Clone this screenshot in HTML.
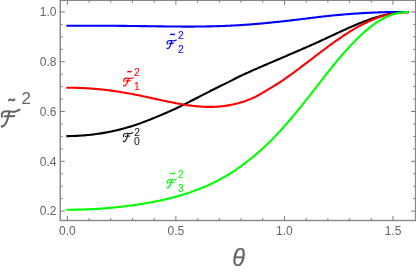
<!DOCTYPE html><html><head><meta charset="utf-8"><title>plot</title><style>
html,body{margin:0;padding:0;background:#fff;}
body{width:416px;height:273px;position:relative;overflow:hidden;font-family:"Liberation Sans",sans-serif;}
#wrap{position:absolute;left:0;top:0;width:416px;height:273px;will-change:transform;}
.tl{position:absolute;color:#666666;font-size:12px;line-height:12px;white-space:nowrap;}
.yl{text-align:right;width:30px;}
.xl{text-align:center;width:30px;}
.theta{position:absolute;color:#666666;font-size:23.5px;line-height:23.5px;font-style:italic;-webkit-text-stroke:0.25px #666666;}
</style></head><body>
<div id="wrap">
<svg width="416" height="273" viewBox="0 0 416 273" style="position:absolute;left:0;top:0">
<defs>
<symbol id="sF" viewBox="0 0 100 96" preserveAspectRatio="none" overflow="visible">
<path d="M3.8,40.0 C3.6,38.1 1.9,32.2 2.4,28.6 C2.9,24.9 4.1,20.9 6.7,18.1 C9.2,15.3 12.6,13.2 17.6,11.9 C22.6,10.6 30.3,10.2 36.7,10.5 C43.0,10.7 49.8,13.0 55.7,13.3 C61.7,13.7 67.2,13.3 72.4,12.4 C77.5,11.4 82.3,9.5 86.7,7.6 C91.0,5.7 96.6,2.1 98.6,1.0" fill="none" stroke="currentColor" vector-effect="non-scaling-stroke" stroke-linecap="round" stroke-linejoin="round"/>
<path d="M42.9,13.3 C42.1,16.8 39.7,27.6 38.1,34.3 C36.5,41.0 35.4,47.0 33.3,53.3 C31.3,59.7 28.6,66.8 25.7,72.4 C22.9,77.9 19.7,83.0 16.2,86.7 C12.7,90.3 7.1,93.7 4.8,94.3 C2.4,94.9 2.4,91.1 1.9,90.5" fill="none" stroke="currentColor" vector-effect="non-scaling-stroke" stroke-linecap="round" stroke-linejoin="round"/>
<path d="M18.1,38.1 C20.8,37.8 28.4,36.3 34.3,36.2 C40.2,36.1 47.4,37.6 53.3,37.6 C59.3,37.6 67.2,36.4 70.0,36.2" fill="none" stroke="currentColor" vector-effect="non-scaling-stroke" stroke-linecap="round" stroke-linejoin="round"/>
</symbol>
<symbol id="sF2" viewBox="0 0 100 89.5" preserveAspectRatio="none" overflow="visible">
<path d="M5.3,39.5 C5.0,37.3 3.0,30.3 3.7,26.3 C4.4,22.4 6.4,18.8 9.5,15.8 C12.5,12.8 17.1,10.0 22.1,8.4 C27.1,6.8 33.5,6.1 39.5,6.3 C45.4,6.5 51.8,9.1 57.9,9.5 C64.0,9.8 71.1,9.1 76.3,8.4 C81.6,7.7 85.7,6.5 89.5,5.3 C93.2,4.0 97.4,1.8 98.9,1.1" fill="none" stroke="currentColor" vector-effect="non-scaling-stroke" stroke-linecap="round" stroke-linejoin="round"/>
<path d="M50.0,9.5 C49.3,12.7 47.7,21.8 45.8,28.9 C43.9,36.1 41.2,45.6 38.4,52.6 C35.6,59.6 32.5,66.0 28.9,71.1 C25.4,76.1 20.6,80.5 16.8,83.2 C13.1,85.8 8.9,87.1 6.3,86.8 C3.7,86.6 1.9,82.5 1.1,81.6" fill="none" stroke="currentColor" vector-effect="non-scaling-stroke" stroke-linecap="round" stroke-linejoin="round"/>
<path d="M25.3,35.8 C28.1,35.4 36.7,33.3 42.1,33.2 C47.5,33.0 53.3,34.8 57.9,34.7 C62.5,34.6 67.5,33.0 69.5,32.6" fill="none" stroke="currentColor" vector-effect="non-scaling-stroke" stroke-linecap="round" stroke-linejoin="round"/>
</symbol>
<symbol id="til" viewBox="0 0 100 40" preserveAspectRatio="none" overflow="visible">
<path d="M6,30 C14,8 30,6 50,20 C70,34 86,32 94,10" fill="none" stroke="currentColor" vector-effect="non-scaling-stroke" stroke-linecap="round" stroke-linejoin="round"/>
</symbol>
</defs>
<rect x="60.25" y="0.3" width="355.35" height="220.2" fill="none" stroke="#868686" stroke-width="1.4"/>
<path d="M67.35,220.5 v-4.5 M67.35,0.3 v4.5 M89.06,220.5 v-2.4 M89.06,0.3 v2.4 M110.77,220.5 v-2.4 M110.77,0.3 v2.4 M132.48,220.5 v-2.4 M132.48,0.3 v2.4 M154.19,220.5 v-2.4 M154.19,0.3 v2.4 M175.90,220.5 v-4.5 M175.90,0.3 v4.5 M197.61,220.5 v-2.4 M197.61,0.3 v2.4 M219.32,220.5 v-2.4 M219.32,0.3 v2.4 M241.03,220.5 v-2.4 M241.03,0.3 v2.4 M262.74,220.5 v-2.4 M262.74,0.3 v2.4 M284.45,220.5 v-4.5 M284.45,0.3 v4.5 M306.16,220.5 v-2.4 M306.16,0.3 v2.4 M327.87,220.5 v-2.4 M327.87,0.3 v2.4 M349.58,220.5 v-2.4 M349.58,0.3 v2.4 M371.29,220.5 v-2.4 M371.29,0.3 v2.4 M393.00,220.5 v-4.5 M393.00,0.3 v4.5 M60.25,211.10 h4.5 M415.6,211.10 h-4.5 M60.25,198.65 h2.4 M415.6,198.65 h-2.4 M60.25,186.20 h2.4 M415.6,186.20 h-2.4 M60.25,173.75 h2.4 M415.6,173.75 h-2.4 M60.25,161.30 h4.5 M415.6,161.30 h-4.5 M60.25,148.85 h2.4 M415.6,148.85 h-2.4 M60.25,136.40 h2.4 M415.6,136.40 h-2.4 M60.25,123.95 h2.4 M415.6,123.95 h-2.4 M60.25,111.50 h4.5 M415.6,111.50 h-4.5 M60.25,99.05 h2.4 M415.6,99.05 h-2.4 M60.25,86.60 h2.4 M415.6,86.60 h-2.4 M60.25,74.15 h2.4 M415.6,74.15 h-2.4 M60.25,61.70 h4.5 M415.6,61.70 h-4.5 M60.25,49.25 h2.4 M415.6,49.25 h-2.4 M60.25,36.80 h2.4 M415.6,36.80 h-2.4 M60.25,24.35 h2.4 M415.6,24.35 h-2.4 M60.25,11.90 h4.5 M415.6,11.90 h-4.5" stroke="#7a7a7a" stroke-width="1" fill="none"/>
<path d="M66.35,136.15 L67.85,136.13 L69.35,136.11 L70.85,136.07 L72.35,136.03 L73.85,135.97 L75.35,135.91 L76.85,135.84 L78.35,135.76 L79.85,135.67 L81.35,135.57 L82.85,135.46 L84.35,135.34 L85.85,135.21 L87.35,135.07 L88.85,134.92 L90.35,134.76 L91.85,134.60 L93.35,134.42 L94.85,134.23 L96.35,134.03 L97.85,133.82 L99.35,133.60 L100.85,133.37 L102.35,133.13 L103.85,132.88 L105.35,132.62 L106.85,132.35 L108.35,132.06 L109.85,131.77 L111.35,131.46 L112.85,131.14 L114.35,130.81 L115.85,130.47 L117.35,130.12 L118.85,129.76 L120.35,129.38 L121.85,128.99 L123.35,128.59 L124.85,128.18 L126.35,127.75 L127.85,127.31 L129.35,126.87 L130.85,126.41 L132.35,125.94 L133.85,125.45 L135.35,124.96 L136.85,124.46 L138.35,123.94 L139.85,123.42 L141.35,122.88 L142.85,122.33 L144.35,121.77 L145.85,121.21 L147.35,120.63 L148.85,120.04 L150.35,119.45 L151.85,118.84 L153.35,118.23 L154.85,117.61 L156.35,116.99 L157.85,116.36 L159.35,115.74 L160.85,115.11 L162.35,114.47 L163.85,113.83 L165.35,113.19 L166.85,112.54 L168.35,111.88 L169.85,111.22 L171.35,110.55 L172.85,109.87 L174.35,109.18 L175.85,108.49 L177.35,107.78 L178.85,107.07 L180.35,106.35 L181.85,105.61 L183.35,104.87 L184.85,104.11 L186.35,103.35 L187.85,102.59 L189.35,101.82 L190.85,101.05 L192.35,100.28 L193.85,99.51 L195.35,98.74 L196.85,97.97 L198.35,97.20 L199.85,96.42 L201.35,95.65 L202.85,94.88 L204.35,94.11 L205.85,93.34 L207.35,92.58 L208.85,91.81 L210.35,91.05 L211.85,90.29 L213.35,89.53 L214.85,88.78 L216.35,88.03 L217.85,87.28 L219.35,86.54 L220.85,85.80 L222.35,85.06 L223.85,84.33 L225.35,83.60 L226.85,82.88 L228.35,82.13 L229.85,81.37 L231.35,80.60 L232.85,79.82 L234.35,79.05 L235.85,78.27 L237.35,77.51 L238.85,76.77 L240.35,76.06 L241.85,75.36 L243.35,74.66 L244.85,73.97 L246.35,73.28 L247.85,72.60 L249.35,71.92 L250.85,71.25 L252.35,70.58 L253.85,69.91 L255.35,69.25 L256.85,68.59 L258.35,67.93 L259.85,67.27 L261.35,66.62 L262.85,65.97 L264.35,65.33 L265.85,64.68 L267.35,64.04 L268.85,63.40 L270.35,62.75 L271.85,62.11 L273.35,61.47 L274.85,60.83 L276.35,60.20 L277.85,59.56 L279.35,58.92 L280.85,58.28 L282.35,57.64 L283.85,56.99 L285.35,56.35 L286.85,55.71 L288.35,55.06 L289.85,54.41 L291.35,53.76 L292.85,53.11 L294.35,52.47 L295.85,51.82 L297.35,51.17 L298.85,50.53 L300.35,49.88 L301.85,49.23 L303.35,48.58 L304.85,47.92 L306.35,47.27 L307.85,46.61 L309.35,45.95 L310.85,45.29 L312.35,44.62 L313.85,43.95 L315.35,43.28 L316.85,42.60 L318.35,41.92 L319.85,41.24 L321.35,40.55 L322.85,39.86 L324.35,39.17 L325.85,38.47 L327.35,37.77 L328.85,37.06 L330.35,36.36 L331.85,35.66 L333.35,34.96 L334.85,34.26 L336.35,33.56 L337.85,32.86 L339.35,32.17 L340.85,31.48 L342.35,30.79 L343.85,30.10 L345.35,29.42 L346.85,28.75 L348.35,28.08 L349.85,27.41 L351.35,26.76 L352.85,26.11 L354.35,25.46 L355.85,24.83 L357.35,24.20 L358.85,23.59 L360.35,22.98 L361.85,22.38 L363.35,21.80 L364.85,21.22 L366.35,20.66 L367.85,20.12 L369.35,19.58 L370.85,19.06 L372.35,18.55 L373.85,18.06 L375.35,17.59 L376.85,17.13 L378.35,16.69 L379.85,16.26 L381.35,15.86 L382.85,15.47 L384.35,15.10 L385.85,14.74 L387.35,14.41 L388.85,14.10 L390.35,13.82 L391.85,13.55 L393.35,13.30 L394.85,13.08 L396.35,12.88 L397.85,12.70 L399.35,12.54 L400.85,12.41 L402.35,12.30 L403.85,12.21 L405.35,12.14 L406.85,12.10 L408.35,12.09 L408.72,12.09" fill="none" stroke="#000000" stroke-width="2.1" stroke-linejoin="round"/>
<path d="M66.35,87.70 L67.85,87.70 L69.35,87.70 L70.85,87.71 L72.35,87.73 L73.85,87.76 L75.35,87.79 L76.85,87.83 L78.35,87.87 L79.85,87.93 L81.35,87.99 L82.85,88.05 L84.35,88.13 L85.85,88.21 L87.35,88.29 L88.85,88.39 L90.35,88.49 L91.85,88.60 L93.35,88.71 L94.85,88.84 L96.35,88.97 L97.85,89.10 L99.35,89.25 L100.85,89.40 L102.35,89.56 L103.85,89.72 L105.35,89.89 L106.85,90.07 L108.35,90.25 L109.85,90.45 L111.35,90.65 L112.85,90.85 L114.35,91.06 L115.85,91.28 L117.35,91.51 L118.85,91.74 L120.35,91.98 L121.85,92.22 L123.35,92.47 L124.85,92.72 L126.35,92.99 L127.85,93.25 L129.35,93.53 L130.85,93.80 L132.35,94.09 L133.85,94.38 L135.35,94.67 L136.85,94.97 L138.35,95.27 L139.85,95.57 L141.35,95.88 L142.85,96.19 L144.35,96.51 L145.85,96.83 L147.35,97.15 L148.85,97.47 L150.35,97.79 L151.85,98.12 L153.35,98.45 L154.85,98.77 L156.35,99.10 L157.85,99.43 L159.35,99.76 L160.85,100.08 L162.35,100.41 L163.85,100.73 L165.35,101.05 L166.85,101.36 L168.35,101.68 L169.85,101.99 L171.35,102.29 L172.85,102.59 L174.35,102.89 L175.85,103.18 L177.35,103.46 L178.85,103.74 L180.35,104.00 L181.85,104.26 L183.35,104.51 L184.85,104.76 L186.35,104.99 L187.85,105.21 L189.35,105.42 L190.85,105.62 L192.35,105.81 L193.85,105.98 L195.35,106.14 L196.85,106.29 L198.35,106.42 L199.85,106.54 L201.35,106.64 L202.85,106.73 L204.35,106.80 L205.85,106.86 L207.35,106.89 L208.85,106.91 L210.35,106.92 L211.85,106.90 L213.35,106.86 L214.85,106.81 L216.35,106.73 L217.85,106.64 L219.35,106.52 L220.85,106.38 L222.35,106.22 L223.85,106.04 L225.35,105.84 L226.85,105.62 L228.35,105.37 L229.85,105.10 L231.35,104.81 L232.85,104.50 L234.35,104.16 L235.85,103.80 L237.35,103.41 L238.85,103.01 L240.35,102.57 L241.85,102.12 L243.35,101.64 L244.85,101.14 L246.35,100.62 L247.85,100.07 L249.35,99.50 L250.85,98.90 L252.35,98.26 L253.85,97.56 L255.35,96.83 L256.85,96.05 L258.35,95.24 L259.85,94.40 L261.35,93.54 L262.85,92.66 L264.35,91.76 L265.85,90.86 L267.35,89.96 L268.85,89.06 L270.35,88.18 L271.85,87.28 L273.35,86.38 L274.85,85.45 L276.35,84.51 L277.85,83.54 L279.35,82.57 L280.85,81.58 L282.35,80.57 L283.85,79.55 L285.35,78.51 L286.85,77.46 L288.35,76.40 L289.85,75.33 L291.35,74.24 L292.85,73.15 L294.35,72.05 L295.85,70.95 L297.35,69.84 L298.85,68.72 L300.35,67.59 L301.85,66.46 L303.35,65.33 L304.85,64.19 L306.35,63.05 L307.85,61.91 L309.35,60.76 L310.85,59.62 L312.35,58.47 L313.85,57.32 L315.35,56.17 L316.85,55.02 L318.35,53.88 L319.85,52.74 L321.35,51.61 L322.85,50.48 L324.35,49.35 L325.85,48.24 L327.35,47.13 L328.85,46.02 L330.35,44.93 L331.85,43.84 L333.35,42.76 L334.85,41.69 L336.35,40.63 L337.85,39.58 L339.35,38.54 L340.85,37.51 L342.35,36.50 L343.85,35.49 L345.35,34.50 L346.85,33.53 L348.35,32.57 L349.85,31.63 L351.35,30.70 L352.85,29.79 L354.35,28.90 L355.85,28.03 L357.35,27.17 L358.85,26.34 L360.35,25.52 L361.85,24.73 L363.35,23.96 L364.85,23.20 L366.35,22.47 L367.85,21.77 L369.35,21.08 L370.85,20.42 L372.35,19.78 L373.85,19.16 L375.35,18.57 L376.85,18.01 L378.35,17.47 L379.85,16.95 L381.35,16.46 L382.85,16.00 L384.35,15.56 L385.85,15.14 L387.35,14.76 L388.85,14.40 L390.35,14.06 L391.85,13.76 L393.35,13.47 L394.85,13.22 L396.35,13.00 L397.85,12.80 L399.35,12.62 L400.85,12.48 L402.35,12.36 L403.85,12.28 L405.35,12.21 L406.85,12.18 L408.35,12.17 L408.72,12.18" fill="none" stroke="#ff0000" stroke-width="2.1" stroke-linejoin="round"/>
<path d="M66.35,25.74 L67.85,25.73 L69.35,25.72 L70.85,25.72 L72.35,25.71 L73.85,25.71 L75.35,25.70 L76.85,25.70 L78.35,25.69 L79.85,25.69 L81.35,25.69 L82.85,25.69 L84.35,25.69 L85.85,25.69 L87.35,25.69 L88.85,25.69 L90.35,25.69 L91.85,25.69 L93.35,25.69 L94.85,25.70 L96.35,25.70 L97.85,25.70 L99.35,25.71 L100.85,25.72 L102.35,25.72 L103.85,25.73 L105.35,25.74 L106.85,25.75 L108.35,25.75 L109.85,25.76 L111.35,25.77 L112.85,25.79 L114.35,25.80 L115.85,25.81 L117.35,25.82 L118.85,25.84 L120.35,25.85 L121.85,25.87 L123.35,25.88 L124.85,25.90 L126.35,25.91 L127.85,25.93 L129.35,25.95 L130.85,25.97 L132.35,25.99 L133.85,26.01 L135.35,26.03 L136.85,26.05 L138.35,26.07 L139.85,26.09 L141.35,26.11 L142.85,26.13 L144.35,26.15 L145.85,26.17 L147.35,26.19 L148.85,26.21 L150.35,26.24 L151.85,26.26 L153.35,26.28 L154.85,26.30 L156.35,26.32 L157.85,26.34 L159.35,26.36 L160.85,26.38 L162.35,26.40 L163.85,26.42 L165.35,26.44 L166.85,26.45 L168.35,26.47 L169.85,26.49 L171.35,26.50 L172.85,26.52 L174.35,26.53 L175.85,26.54 L177.35,26.55 L178.85,26.56 L180.35,26.57 L181.85,26.58 L183.35,26.58 L184.85,26.59 L186.35,26.59 L187.85,26.59 L189.35,26.59 L190.85,26.59 L192.35,26.58 L193.85,26.58 L195.35,26.57 L196.85,26.56 L198.35,26.55 L199.85,26.53 L201.35,26.51 L202.85,26.49 L204.35,26.47 L205.85,26.45 L207.35,26.42 L208.85,26.39 L210.35,26.36 L211.85,26.32 L213.35,26.29 L214.85,26.24 L216.35,26.20 L217.85,26.15 L219.35,26.11 L220.85,26.05 L222.35,26.00 L223.85,25.94 L225.35,25.88 L226.85,25.81 L228.35,25.75 L229.85,25.68 L231.35,25.60 L232.85,25.53 L234.35,25.45 L235.85,25.36 L237.35,25.28 L238.85,25.19 L240.35,25.10 L241.85,25.00 L243.35,24.90 L244.85,24.80 L246.35,24.69 L247.85,24.59 L249.35,24.47 L250.85,24.36 L252.35,24.24 L253.85,24.12 L255.35,24.00 L256.85,23.87 L258.35,23.74 L259.85,23.61 L261.35,23.48 L262.85,23.34 L264.35,23.20 L265.85,23.06 L267.35,22.91 L268.85,22.76 L270.35,22.61 L271.85,22.46 L273.35,22.31 L274.85,22.15 L276.35,22.00 L277.85,21.84 L279.35,21.68 L280.85,21.51 L282.35,21.35 L283.85,21.18 L285.35,21.02 L286.85,20.85 L288.35,20.68 L289.85,20.51 L291.35,20.34 L292.85,20.16 L294.35,19.98 L295.85,19.80 L297.35,19.62 L298.85,19.44 L300.35,19.26 L301.85,19.08 L303.35,18.89 L304.85,18.71 L306.35,18.52 L307.85,18.34 L309.35,18.16 L310.85,17.97 L312.35,17.79 L313.85,17.61 L315.35,17.43 L316.85,17.25 L318.35,17.07 L319.85,16.89 L321.35,16.72 L322.85,16.55 L324.35,16.38 L325.85,16.21 L327.35,16.04 L328.85,15.88 L330.35,15.72 L331.85,15.57 L333.35,15.42 L334.85,15.27 L336.35,15.12 L337.85,14.98 L339.35,14.84 L340.85,14.71 L342.35,14.58 L343.85,14.45 L345.35,14.32 L346.85,14.20 L348.35,14.08 L349.85,13.97 L351.35,13.86 L352.85,13.75 L354.35,13.64 L355.85,13.54 L357.35,13.44 L358.85,13.35 L360.35,13.26 L361.85,13.17 L363.35,13.08 L364.85,13.00 L366.35,12.92 L367.85,12.84 L369.35,12.77 L370.85,12.70 L372.35,12.63 L373.85,12.57 L375.35,12.51 L376.85,12.45 L378.35,12.39 L379.85,12.34 L381.35,12.29 L382.85,12.24 L384.35,12.20 L385.85,12.16 L387.35,12.12 L388.85,12.08 L390.35,12.05 L391.85,12.03 L393.35,12.00 L394.85,11.98 L396.35,11.97 L397.85,11.95 L399.35,11.94 L400.85,11.94 L402.35,11.93 L403.85,11.93 L405.35,11.94 L406.85,11.94 L408.35,11.96 L408.72,11.96" fill="none" stroke="#0000ff" stroke-width="2.1" stroke-linejoin="round"/>
<path d="M66.35,209.74 L67.85,209.74 L69.35,209.74 L70.85,209.73 L72.35,209.72 L73.85,209.70 L75.35,209.68 L76.85,209.65 L78.35,209.62 L79.85,209.59 L81.35,209.54 L82.85,209.50 L84.35,209.45 L85.85,209.39 L87.35,209.33 L88.85,209.27 L90.35,209.20 L91.85,209.13 L93.35,209.05 L94.85,208.96 L96.35,208.87 L97.85,208.78 L99.35,208.68 L100.85,208.58 L102.35,208.47 L103.85,208.36 L105.35,208.25 L106.85,208.12 L108.35,208.00 L109.85,207.87 L111.35,207.73 L112.85,207.59 L114.35,207.45 L115.85,207.30 L117.35,207.14 L118.85,206.98 L120.35,206.82 L121.85,206.65 L123.35,206.48 L124.85,206.30 L126.35,206.11 L127.85,205.93 L129.35,205.73 L130.85,205.53 L132.35,205.33 L133.85,205.12 L135.35,204.91 L136.85,204.69 L138.35,204.46 L139.85,204.23 L141.35,203.99 L142.85,203.75 L144.35,203.50 L145.85,203.25 L147.35,202.99 L148.85,202.72 L150.35,202.45 L151.85,202.17 L153.35,201.89 L154.85,201.60 L156.35,201.30 L157.85,200.99 L159.35,200.68 L160.85,200.36 L162.35,200.03 L163.85,199.70 L165.35,199.36 L166.85,199.01 L168.35,198.65 L169.85,198.28 L171.35,197.90 L172.85,197.52 L174.35,197.13 L175.85,196.72 L177.35,196.31 L178.85,195.89 L180.35,195.46 L181.85,195.01 L183.35,194.56 L184.85,194.10 L186.35,193.62 L187.85,193.13 L189.35,192.64 L190.85,192.13 L192.35,191.60 L193.85,191.07 L195.35,190.52 L196.85,189.96 L198.35,189.39 L199.85,188.80 L201.35,188.20 L202.85,187.58 L204.35,186.95 L205.85,186.30 L207.35,185.64 L208.85,184.97 L210.35,184.27 L211.85,183.56 L213.35,182.84 L214.85,182.10 L216.35,181.34 L217.85,180.56 L219.35,179.77 L220.85,178.95 L222.35,178.12 L223.85,177.27 L225.35,176.40 L226.85,175.52 L228.35,174.61 L229.85,173.69 L231.35,172.74 L232.85,171.77 L234.35,170.79 L235.85,169.78 L237.35,168.75 L238.85,167.71 L240.35,166.64 L241.85,165.56 L243.35,164.46 L244.85,163.34 L246.35,162.20 L247.85,161.04 L249.35,159.86 L250.85,158.67 L252.35,157.45 L253.85,156.21 L255.35,154.95 L256.85,153.67 L258.35,152.37 L259.85,151.05 L261.35,149.71 L262.85,148.34 L264.35,146.95 L265.85,145.54 L267.35,144.11 L268.85,142.66 L270.35,141.18 L271.85,139.68 L273.35,138.16 L274.85,136.62 L276.35,135.06 L277.85,133.47 L279.35,131.86 L280.85,130.23 L282.35,128.58 L283.85,126.91 L285.35,125.21 L286.85,123.50 L288.35,121.76 L289.85,120.01 L291.35,118.25 L292.85,116.46 L294.35,114.66 L295.85,112.85 L297.35,111.02 L298.85,109.18 L300.35,107.33 L301.85,105.47 L303.35,103.59 L304.85,101.71 L306.35,99.83 L307.85,97.94 L309.35,96.04 L310.85,94.14 L312.35,92.23 L313.85,90.31 L315.35,88.39 L316.85,86.46 L318.35,84.53 L319.85,82.60 L321.35,80.67 L322.85,78.75 L324.35,76.82 L325.85,74.91 L327.35,73.00 L328.85,71.10 L330.35,69.22 L331.85,67.34 L333.35,65.49 L334.85,63.65 L336.35,61.83 L337.85,60.03 L339.35,58.25 L340.85,56.50 L342.35,54.77 L343.85,53.05 L345.35,51.36 L346.85,49.69 L348.35,48.04 L349.85,46.41 L351.35,44.81 L352.85,43.23 L354.35,41.68 L355.85,40.15 L357.35,38.66 L358.85,37.19 L360.35,35.76 L361.85,34.36 L363.35,32.99 L364.85,31.65 L366.35,30.35 L367.85,29.09 L369.35,27.86 L370.85,26.67 L372.35,25.52 L373.85,24.42 L375.35,23.37 L376.85,22.36 L378.35,21.40 L379.85,20.48 L381.35,19.61 L382.85,18.79 L384.35,18.01 L385.85,17.28 L387.35,16.60 L388.85,15.96 L390.35,15.37 L391.85,14.83 L393.35,14.33 L394.85,13.88 L396.35,13.47 L397.85,13.11 L399.35,12.80 L400.85,12.55 L402.35,12.34 L403.85,12.18 L405.35,12.07 L406.85,12.01 L408.35,12.00 L408.72,12.01" fill="none" stroke="#00ff00" stroke-width="2.1" stroke-linejoin="round"/>
<g font-family="Liberation Sans, sans-serif">
<g color="#0000ff" fill="#0000ff" stroke="none"><use href="#sF2" x="166.80" y="39.90" width="9.60" height="9.10" stroke-width="1.2"/><use href="#til" x="170.45" y="33.75" width="4.30" height="1.30" stroke-width="1.3"/><text x="178.0" y="38.8" font-size="10.4" stroke="#0000ff" stroke-width="0.08">2</text><text x="178.0" y="52.7" font-size="10.4" stroke="#0000ff" stroke-width="0.08">2</text></g>
<g color="#ff0000" fill="#ff0000" stroke="none"><use href="#sF2" x="123.40" y="77.50" width="9.90" height="8.80" stroke-width="1.2"/><use href="#til" x="127.55" y="70.95" width="3.90" height="1.40" stroke-width="1.3"/><text x="134.1" y="75.8" font-size="10.4" stroke="#ff0000" stroke-width="0.08">2</text><text x="134.1" y="89.5" font-size="10.4" stroke="#ff0000" stroke-width="0.08">1</text></g>
<g color="#222222" fill="#222222" stroke="none"><use href="#sF2" x="123.10" y="132.60" width="9.80" height="9.30" stroke-width="1.2"/><text x="134.2" y="136.3" font-size="10.4" stroke="#222222" stroke-width="0.08">2</text><text x="134.0" y="145.1" font-size="10.4" stroke="#222222" stroke-width="0.08">0</text></g>
<g color="#00ff00" fill="#00ff00" stroke="none"><use href="#sF2" x="166.85" y="178.90" width="9.60" height="9.40" stroke-width="1.2"/><use href="#til" x="170.45" y="172.75" width="4.30" height="1.40" stroke-width="1.3"/><text x="178.0" y="178.2" font-size="10.4" stroke="#00ff00" stroke-width="0.08">2</text><text x="178.0" y="191.6" font-size="10.4" stroke="#00ff00" stroke-width="0.08">3</text></g>
<g color="#666666" fill="#666666" stroke="none"><use href="#sF" x="1.30" y="109.40" width="18.60" height="17.60" stroke-width="2.0"/><use href="#til" x="8.50" y="98.80" width="6.30" height="2.20" stroke-width="2.0"/><text x="21.4" y="104.3" font-size="17">2</text></g>
</g>
</svg>
<div class="tl yl" style="left:26.5px;top:6.20px">1.0</div>
<div class="tl yl" style="left:26.5px;top:56.00px">0.8</div>
<div class="tl yl" style="left:26.5px;top:105.80px">0.6</div>
<div class="tl yl" style="left:26.5px;top:155.60px">0.4</div>
<div class="tl yl" style="left:26.5px;top:205.40px">0.2</div>
<div class="tl xl" style="left:52.35px;top:224.6px">0.0</div>
<div class="tl xl" style="left:160.90px;top:224.6px">0.5</div>
<div class="tl xl" style="left:269.45px;top:224.6px">1.0</div>
<div class="tl xl" style="left:378.00px;top:224.6px">1.5</div>
<div class="theta" style="left:232.3px;top:247.0px">θ</div>
</div>
</body></html>
